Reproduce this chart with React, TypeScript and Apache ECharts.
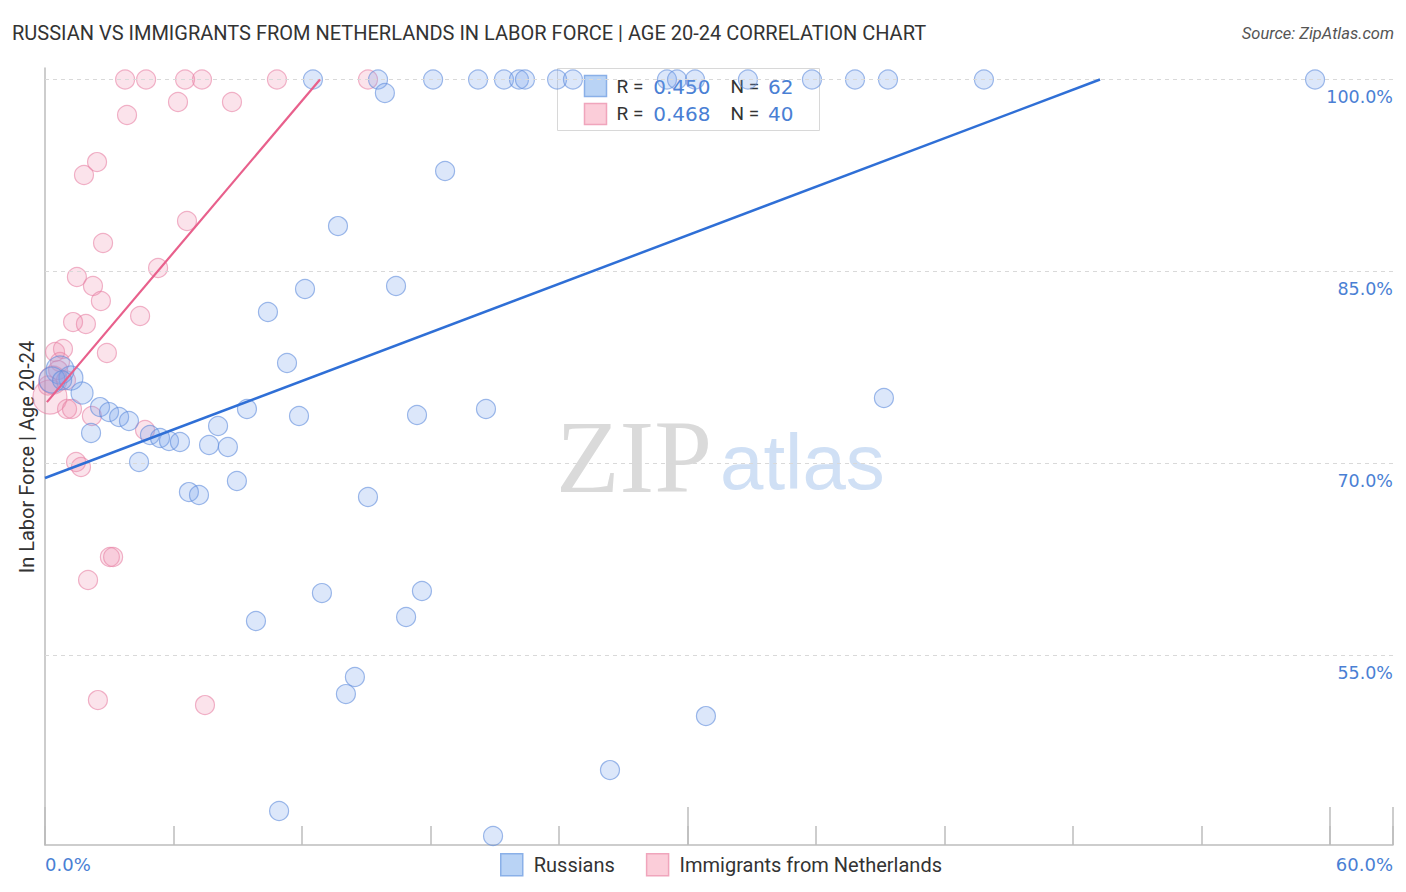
import React, { useEffect, useRef } from "react";
import * as echarts from "echarts";

// Russians (x: Immigrants share %, y: labor force %)
const russiansX = [
  12.51, 15.55, 18.12, 20.22, 21.43, 22.13, 22.41, 23.91, 24.65, 29.04, 29.51, 30.35, 32.82, 35.81, 37.82, 39.36, 43.84, 59.3,
  15.87, 18.68, 13.68, 16.39, 12.14, 10.41, 11.3, 39.17, 20.59, 17.37, 11.86, 9.43, 8.08, 7.66, 8.54, 8.96, 6.72, 7.19, 15.08,
  4.39, 2.15, 1.73, 1.21, 0.7, 0.33, 2.57, 2.99, 3.46, 3.92, 4.9, 5.37, 5.79, 6.3, 12.93, 17.6, 16.86, 9.85, 14.47, 14.05,
  30.86, 26.38, 10.93, 20.92, 0.8,
];
const russiansY = [
  100, 100, 100, 100, 100, 100, 100, 100, 100, 100, 100, 100, 100, 100, 100, 100, 100, 100,
  98.95, 92.85, 88.55, 83.87, 83.63, 81.84, 77.85, 75.12, 74.26, 73.79, 73.71, 74.26, 72.93, 71.45, 71.29, 68.63, 67.77, 67.54, 67.38,
  70.12, 72.38, 75.51, 76.68, 77.3, 76.52, 74.41, 74.02, 73.63, 73.32, 72.23, 71.99, 71.76, 71.68, 59.88, 60.04, 58.01, 57.7, 53.32, 51.99,
  50.27, 46.05, 42.85, 40.9, 76.5,
];

// Immigrants from Netherlands
const immigrantsX = [
  3.74, 4.72, 6.54, 7.33, 10.83, 15.08, 6.21, 8.73, 3.83, 2.43, 1.82, 6.63, 2.71, 5.28, 1.49, 2.24, 2.61, 4.44, 1.31, 1.91,
  2.89, 0.47, 0.84, 0.7, 0.37, 0.23, 1.03, 1.26, 2.19, 4.67, 1.45, 1.68, 3.03, 3.18, 2.01, 2.47, 7.47, 0.14, 0.61, 0.98,
];
const immigrantsY = [
  100, 100, 100, 100, 100, 100, 98.24, 98.24, 97.23, 93.55, 92.54, 88.95, 87.23, 85.27, 84.57, 83.87, 82.7, 81.52, 81.05, 80.9,
  78.63, 78.71, 78.95, 77.93, 76.52, 75.2, 74.26, 74.26, 73.71, 72.62, 70.12, 69.73, 62.7, 62.7, 60.9, 51.52, 51.13, 76.1, 77.3, 76.5,
];

// Trend lines (end points)
const russiansTrend = [[0, 68.87], [49.26, 100]];
const immigrantsTrend = [[0.09, 74.8], [12.84, 100]];

const yTickValues = [55, 70, 85, 100];
const xEndLabels = ["0.0%", "60.0%"];
const stats = [
  { r: "0.450", n: "62" },
  { r: "0.468", n: "40" },
];
const seriesNames = ["Russians", "Immigrants from Netherlands"];

// Style-only: enlarged markers
const russianBig: Record<number, number> = { 39: 22, 40: 24, 41: 28, 42: 26 };
const immigrantBig: Record<number, number> = { 24: 28, 25: 34 };

const BLUE_TXT = "#4a7fd4";
const DARK = "#333333";
const NUM_FONT = "DejaVu Sans";

export default function App() {
  const ref = useRef<HTMLDivElement>(null);
  useEffect(() => {
    const chart = echarts.init(ref.current!, null, { renderer: "svg" });
    const rus = russiansX.map((x, i) => [x, russiansY[i]]);
    const imm = immigrantsX.map((x, i) => [x, immigrantsY[i]]);
    const font = "Roboto";
    chart.setOption({
      animation: false,
      textStyle: { fontFamily: font },
      grid: { left: 45, right: 13, top: 68, bottom: 47 },
      xAxis: [
        {
          type: "value", min: 0, max: 62.94, interval: 6,
          axisLine: { show: true, lineStyle: { color: "#bdbdbd", width: 1.5 } },
          axisTick: { show: true, inside: true, length: 19, lineStyle: { color: "#bdbdbd", width: 1.5 } },
          axisLabel: { show: false }, splitLine: { show: false },
        },
        {
          type: "value", min: 0, max: 62.94, interval: 30, position: "bottom",
          axisLine: { show: false },
          axisTick: { show: true, inside: true, length: 38, lineStyle: { color: "#bdbdbd", width: 1.5 } },
          axisLabel: { show: false }, splitLine: { show: false },
        },
      ],
      yAxis: {
        type: "value", min: 40.2, max: 100.9,
        axisLine: { show: true, lineStyle: { color: "#bdbdbd", width: 1.5 } },
        axisTick: { show: false }, axisLabel: { show: false }, splitLine: { show: false },
      },
      legend: {
        data: seriesNames.map((n, i) => ({
          name: n,
          itemStyle: i === 0
            ? { color: "#b9d3f5", borderColor: "#8ab0e8", borderWidth: 1.5, opacity: 1 }
            : { color: "#fbcdd9", borderColor: "#f0a5bc", borderWidth: 1.5, opacity: 1 },
        })),
        left: 500, top: 853, padding: 0, icon: "rect", itemWidth: 22, itemHeight: 22, itemGap: 31,
        textStyle: { fontSize: 20, color: DARK, fontFamily: font, padding: [0, 0, 0, 6] },
        selectedMode: false,
      },
      graphic: [
        { type: "text", x: 12, y: 33, style: { text: "RUSSIAN VS IMMIGRANTS FROM NETHERLANDS IN LABOR FORCE | AGE 20-24 CORRELATION CHART", fontSize: 20, fill: DARK, fontFamily: font, verticalAlign: "middle" } },
        { type: "text", x: 1394, y: 33, style: { text: "Source: ZipAtlas.com", fontSize: 16.5, fill: "#555", fontStyle: "italic", fontFamily: font, align: "right", verticalAlign: "middle" } },
        { type: "text", x: 27, y: 457, rotation: Math.PI / 2, style: { text: "In Labor Force | Age 20-24", fontSize: 20, fill: DARK, fontFamily: font, align: "center", verticalAlign: "middle" } },
        { type: "text", x: 45, y: 864, style: { text: xEndLabels[0], fontSize: 18, fill: BLUE_TXT, fontFamily: NUM_FONT, align: "left", verticalAlign: "middle" } },
        { type: "text", x: 1393, y: 864, style: { text: xEndLabels[1], fontSize: 18, fill: BLUE_TXT, fontFamily: NUM_FONT, align: "right", verticalAlign: "middle" } },
        { type: "text", x: 712, y: 456, z: -10, style: { text: "ZIP", fontSize: 104, fill: "#dadada", fontFamily: "Liberation Serif", align: "right", verticalAlign: "middle" } },
        { type: "text", x: 720, y: 462, z: -10, style: { text: "atlas", fontSize: 78, fill: "#d0e0f5", fontFamily: "Liberation Sans", align: "left", verticalAlign: "middle" } },
        {
          type: "group", left: 557, top: 68, z: 100,
          children: [
            { type: "rect", shape: { x: 0, y: 0, width: 262, height: 62 }, style: { fill: "rgba(255,255,255,0.75)", stroke: "#d8d8d8", lineWidth: 1 } },
            { type: "rect", shape: { x: 27, y: 7, width: 22, height: 21 }, style: { fill: "#b9d3f5", stroke: "#8ab0e8", lineWidth: 1.5 } },
            { type: "rect", shape: { x: 27, y: 35, width: 22, height: 21 }, style: { fill: "#fbcdd9", stroke: "#f0a5bc", lineWidth: 1.5 } },
            ...stats.flatMap((s, i) => {
              const cy = 18 + i * 27;
              return [
                { type: "text", x: 59, y: cy, style: { text: "R =", fontSize: 19, fill: DARK, fontFamily: font, verticalAlign: "middle" } },
                { type: "text", x: 153, y: cy, style: { text: s.r, fontSize: 20, fill: BLUE_TXT, fontFamily: NUM_FONT, align: "right", verticalAlign: "middle" } },
                { type: "text", x: 173, y: cy, style: { text: "N =", fontSize: 19, fill: DARK, fontFamily: font, verticalAlign: "middle" } },
                { type: "text", x: 236, y: cy, style: { text: s.n, fontSize: 20, fill: BLUE_TXT, fontFamily: NUM_FONT, align: "right", verticalAlign: "middle" } },
              ];
            }),
          ],
        },
      ],
      series: [
        {
          name: seriesNames[1], type: "scatter", data: imm,
          symbolSize: (_v: any, p: any) => immigrantBig[p.dataIndex] ?? 19,
          itemStyle: { color: "rgba(240,140,170,0.3)", borderColor: "rgba(232,130,165,0.75)", borderWidth: 1.2 },
          markLine: {
            silent: true, symbol: "none",
            lineStyle: { color: "#d9d9d9", type: [4, 4], width: 1 },
            label: {
              show: true, position: "insideEndBottom", distance: [0, 8],
              formatter: (p: any) => Number(p.value).toFixed(1) + "%",
              color: BLUE_TXT, fontSize: 17.5, fontFamily: NUM_FONT,
            },
            data: yTickValues.map((v) => ({ yAxis: v })),
          },
        },
        {
          name: seriesNames[0], type: "scatter", data: rus,
          symbolSize: (_v: any, p: any) => russianBig[p.dataIndex] ?? 19,
          itemStyle: { color: "rgba(120,165,235,0.33)", borderColor: "rgba(95,140,220,0.75)", borderWidth: 1.2 },
        },
        {
          name: "immTrend", type: "line", data: immigrantsTrend, symbol: "none",
          lineStyle: { color: "#e8608c", width: 2.2 }, z: 5,
        },
        {
          name: "rusTrend", type: "line", data: russiansTrend, symbol: "none",
          lineStyle: { color: "#2f6fd6", width: 2.5 }, z: 5,
        },
      ],
    });
    return () => chart.dispose();
  }, []);
  return <div ref={ref} style={{ position: "absolute", left: 0, top: 0, width: 1406, height: 892 }} />;
}
